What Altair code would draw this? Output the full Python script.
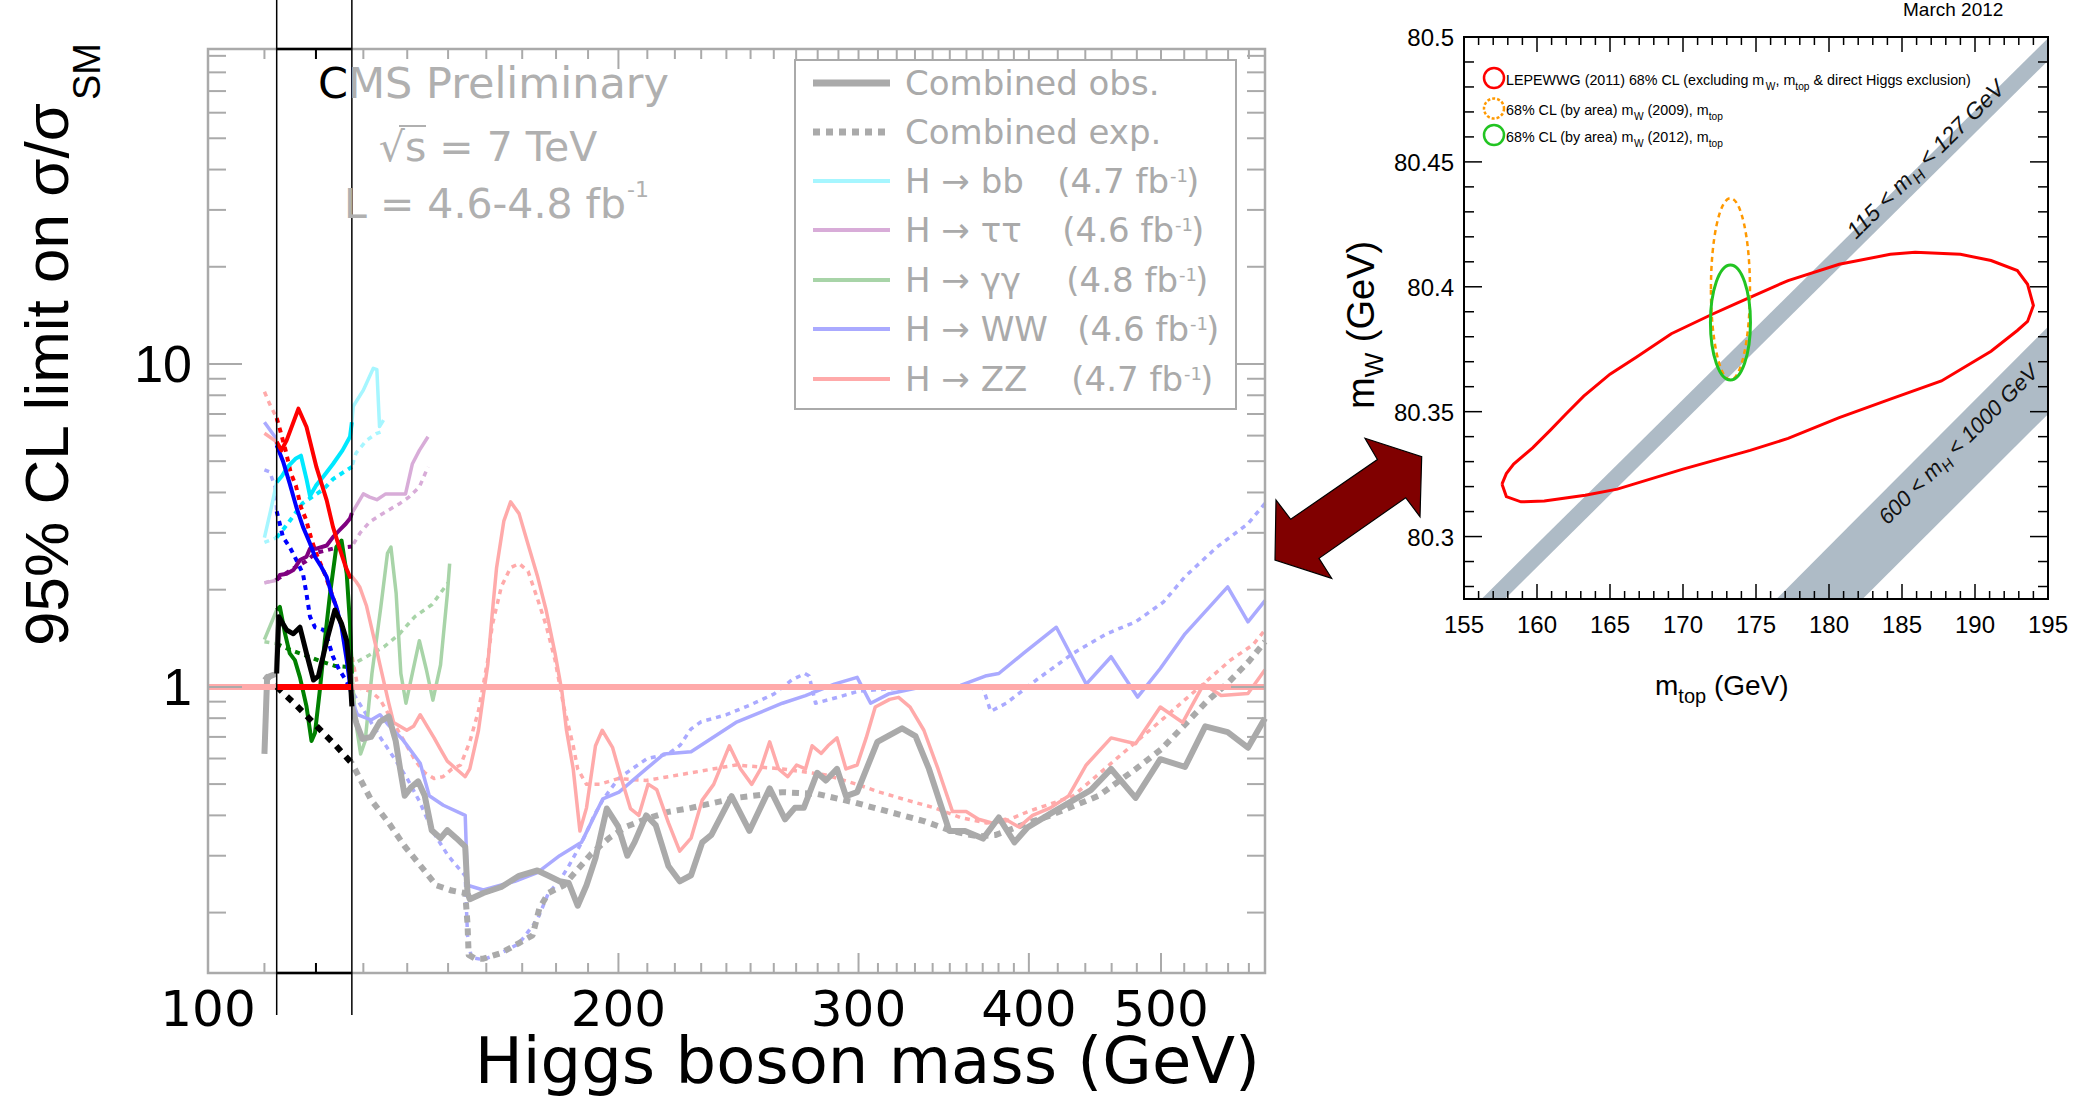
import altair as alt
import pandas as pd

# ================= LEFT PANEL: 95% CL limit on sigma/sigma_SM (CMS, 7 TeV) =================
# (Higgs boson mass [GeV], limit)
OBS = [(110.0,0.62),(110.5,1.07),(112.3,1.10),(112.7,1.65),(114.2,1.50),(115.5,1.46),(116.8,1.53),(118.1,1.27),
       (119.5,1.05),(120.5,1.08),(122.2,1.39),(123.9,1.73),(125.3,1.57),(126.4,1.39),(127.1,1.10),(127.5,0.87),
       (128.5,0.77),(129.8,0.69),(131.7,0.70),(133.7,0.78),(135.7,0.81),(137.3,0.68),(138.3,0.56),(139.4,0.46),
       (141.0,0.49),(142.6,0.51),(144.2,0.46),(145.9,0.36),(148.1,0.34),(149.8,0.36),(152.1,0.34),(154.4,0.32),
       (155.0,0.23),(155.6,0.22),(159.2,0.23),(164.1,0.24),(169.1,0.26),(174.4,0.27),(177.7,0.26),(181.1,0.25),
       (183.9,0.247),(186.7,0.21),(189.5,0.243),(192.4,0.295),(196.1,0.42),(199.9,0.37),(203.0,0.30),(205.5,0.33),
       (209.6,0.40),(213.0,0.373),(217.6,0.279),(221.8,0.25),(226.1,0.261),(230.4,0.33),(234.0,0.348),(242.1,0.459),
       (249.5,0.358),(258.2,0.485),(265.0,0.389),(269.4,0.422),(273.5,0.422),(279.8,0.542),(283.9,0.513),(289.3,0.557),
       (293.7,0.459),(299.3,0.472),(309.7,0.676),(322.9,0.744),(330.3,0.704),(337.9,0.557),(349.7,0.358),(359.1,0.358),
       (370.2,0.339),(380.2,0.394),(390.4,0.330),(399.4,0.368),(414.8,0.405),(434.1,0.453),(444.1,0.479),(459.6,0.557),
       (479.0,0.453),(499.4,0.597),(520.7,0.565),(538.8,0.755),(559.6,0.724),(579.1,0.648),(596.0,0.80)]
EXP = [(110.0,1.08),(112.3,1.00),(116.0,0.88),(120.0,0.76),(124.0,0.66),(127.5,0.58),(131.7,0.447),(135.7,0.379),
       (139.4,0.321),(143.2,0.279),(147.0,0.243),(150.9,0.234),(154.4,0.230),(155.0,0.185),(155.3,0.148),(157.0,0.144),
       (159.2,0.144),(164.1,0.150),(169.1,0.161),(173.0,0.170),(175.0,0.206),(177.7,0.230),(182.4,0.243),(186.7,0.272),
       (191.0,0.304),(196.8,0.340),(203.0,0.370),(209.6,0.390),(217.5,0.410),(226.1,0.422),(243.9,0.453),(263.8,0.472),
       (279.8,0.466),(297.0,0.440),(315.5,0.411),(335.0,0.384),(351.1,0.358),(367.4,0.344),(378.3,0.348),(399.4,0.379),
       (414.8,0.400),(450.0,0.460),(480.0,0.560),(500.0,0.640),(520.0,0.760),(540.0,0.900),(560.0,1.030),(580.0,1.200),
       (596.0,1.38)]
BB_OBS = [(110.0,2.9),(111.3,3.6),(112.3,4.3),(113.3,4.5),(114.4,4.8),(116.0,5.1),(117.0,5.2),(118.1,4.4),(118.8,3.9),
          (120.0,4.2),(121.6,4.5),(123.5,4.9),(125.5,5.4),(127.1,5.95),(127.5,6.6),(127.8,7.4),(130.0,8.3),(132.2,9.7),
          (133.0,9.6),(133.6,6.4),(134.5,6.7)]
BB_EXP = [(110.0,2.8),(112.3,2.9),(114.4,3.2),(117.3,3.7),(119.5,3.9),(121.6,4.1),(123.5,4.4),(125.5,4.6),(127.5,4.8),
          (128.4,5.3),(130.7,5.8),(133.0,6.1),(134.5,6.2)]
TT_OBS = [(110.0,2.1),(112.3,2.14),(112.9,2.22),(114.2,2.24),(115.5,2.30),(116.8,2.47),(118.1,2.53),(118.8,2.68),
          (120.1,2.68),(122.2,2.74),(123.5,2.91),(124.8,3.05),(126.2,3.20),(127.1,3.32),(127.5,3.45),(130.0,3.96),
          (131.4,3.87),(133.0,3.80),(135.0,3.96),(136.6,3.96),(139.6,3.96),(141.2,4.90),(142.9,5.40),(145.0,5.95)]
TT_EXP = [(110.0,2.1),(112.3,2.15),(115.0,2.3),(118.0,2.45),(120.0,2.6),(123.5,2.68),(127.5,2.72),(129.3,3.0),
          (131.4,3.24),(133.7,3.40),(136.0,3.55),(138.3,3.70),(140.4,3.87),(142.9,4.16),(145.0,4.80)]
GG_OBS = [(110.0,1.40),(112.3,1.73),(112.9,1.77),(113.9,1.46),(114.8,1.27),(115.8,1.21),(116.8,1.07),(118.1,0.87),
          (119.1,0.68),(119.8,0.72),(120.8,0.98),(121.8,1.39),(122.9,1.95),(124.2,2.71),(125.3,2.84),(126.4,2.24),
          (127.1,1.57),(127.5,1.10),(128.4,0.77),(129.4,0.62),(130.4,0.68),(131.9,1.10),(133.9,1.77),(135.4,2.59),
          (136.2,2.71),(137.4,1.95),(138.5,1.10),(139.7,0.89),(141.2,1.10),(142.9,1.39),(144.6,1.13),(146.2,0.91),
          (148.1,1.17),(149.8,1.93),(150.4,2.41)]
GG_EXP = [(110.0,1.38),(112.3,1.36),(115.0,1.30),(118.0,1.25),(121.0,1.20),(124.0,1.16),(127.5,1.15),(128.4,1.19),
          (134.6,1.33),(138.2,1.46),(141.8,1.65),(146.0,1.80),(150.0,2.10)]
WW_OBS = [(110.0,6.6),(112.0,5.94),(112.3,5.6),(113.5,5.0),(114.8,4.26),(116.1,3.6),(117.4,3.13),(118.8,2.78),
          (119.8,2.53),(121.1,2.35),(122.2,2.19),(123.2,1.94),(124.2,1.77),(125.3,1.53),(126.4,1.21),(127.1,1.02),
          (127.5,0.91),(128.7,0.82),(131.7,0.79),(133.7,0.82),(135.7,0.76),(138.8,0.69),(139.9,0.66),(143.1,0.58),
          (145.3,0.46),(148.8,0.43),(154.4,0.40),(155.0,0.243),(159.2,0.235),(167.9,0.25),(174.4,0.266),(181.1,0.30),
          (187.9,0.33),(194.8,0.45),(200.2,0.472),(209.6,0.557),(216.0,0.62),(226.1,0.63),(243.9,0.776),(263.8,0.89),
          (274.3,0.94),(288.0,1.02),(299.3,1.07),(306.2,0.89),(315.5,0.95),(330.3,0.99),(356.4,1.01),(371.6,1.08),
          (380.2,1.10),(396.3,1.27),(419.0,1.53),(440.7,1.02),(459.6,1.24),(480.6,0.93),(499.4,1.14),(520.7,1.46),
          (559.6,2.04),(579.1,1.59),(596.0,1.85)]
WW_EXP = [(110.0,4.7),(111.0,4.63),(112.0,4.16),(112.3,3.5),(113.5,2.91),(114.8,2.71),(116.1,2.47),(117.4,2.24),
          (118.1,1.94),(118.8,1.65),(119.8,1.53),(121.6,1.50),(122.5,1.39),(123.5,1.24),(124.8,1.13),(126.2,1.05),
          (127.5,0.97),(130.0,0.85),(133.7,0.70),(137.0,0.60),(140.0,0.52),(143.0,0.44),(146.0,0.36),(150.0,0.30),
          (154.4,0.26),(155.0,0.17),(156.0,0.145),(159.2,0.143),(164.0,0.15),(169.0,0.16),(174.4,0.19),(177.7,0.23),
          (181.0,0.25),(184.0,0.28),(188.0,0.33),(192.0,0.40),(195.0,0.45),(200.0,0.52),(205.0,0.56),(210.0,0.60),
          (217.5,0.62),(222.0,0.66),(226.0,0.74),(230.0,0.78),(240.0,0.82),(250.0,0.88),(260.0,0.95),(268.0,1.05),
          (274.0,1.10),(276.0,1.08),(279.0,0.89),(290.0,0.93),(300.0,0.97),(320.0,0.99),(340.0,1.00),(356.0,0.99),
          (370.0,1.00),(375.0,0.84),(385.0,0.89),(405.0,1.05),(431.0,1.27),(456.0,1.46),(479.0,1.59),(502.0,1.83),
          (521.0,2.20),(549.0,2.70),(579.0,3.20),(596.0,3.70)]
ZZ_OBS = [(110.0,6.1),(112.3,5.74),(113.2,5.4),(114.2,5.8),(116.5,7.27),(118.1,6.38),(120.1,4.79),(122.2,3.78),
          (123.5,3.13),(124.8,2.71),(126.2,2.35),(127.1,2.19),(127.5,2.2),(128.4,2.12),(129.2,2.04),(130.7,1.78),
          (132.7,1.35),(133.7,1.17),(134.7,1.02),(135.7,0.89),(136.8,0.776),(138.3,0.755),(139.9,0.734),(141.5,0.755),
          (143.1,0.82),(144.8,0.755),(146.5,0.695),(148.1,0.64),(149.8,0.589),(152.1,0.557),(154.4,0.527),(155.6,0.557),
          (157.9,0.734),(159.2,0.94),(160.4,1.17),(161.6,1.68),(162.8,2.34),(164.8,3.26),(166.7,3.74),(169.1,3.44),
          (171.7,2.76),(174.4,2.21),(177.0,1.73),(179.7,1.27),(181.8,0.967),(183.2,0.734),(185.3,0.557),(187.4,0.358),
          (189.5,0.422),(192.4,0.657),(194.6,0.734),(198.0,0.65),(201.0,0.52),(204.1,0.42),(207.0,0.40),(210.3,0.50),
          (213.4,0.48),(217.6,0.38),(221.8,0.31),(226.1,0.34),(230.4,0.446),(234.9,0.499),(241.2,0.657),(245.8,0.557),
          (250.5,0.499),(254.3,0.557),(258.2,0.676),(262.1,0.557),(266.2,0.527),(270.2,0.573),(274.3,0.557),(277.4,0.657),
          (281.7,0.622),(284.9,0.657),(289.3,0.695),(293.7,0.557),(299.3,0.573),(303.9,0.695),(308.6,0.866),(316.2,0.915),
          (321.0,0.928),(327.3,0.866),(335.0,0.734),(343.1,0.557),(351.6,0.411),(359.8,0.411),(367.4,0.389),(375.8,0.379),
          (384.5,0.389),(393.4,0.368),(402.5,0.400),(414.8,0.422),(427.7,0.459),(440.7,0.573),(459.6,0.695),(479.0,0.667),
          (499.4,0.866),(518.7,0.776),(537.4,1.02),(553.4,0.941),(579.1,0.954),(596.0,1.13)]
ZZ_EXP = [(110.0,8.2),(111.0,7.5),(112.3,6.8),(113.0,6.2),(114.0,5.4),(115.0,4.6),(116.0,4.2),(117.0,3.6),(118.0,3.3),
          (119.0,2.9),(120.0,2.6),(122.0,2.2),(124.0,1.8),(126.0,1.45),(127.5,1.25),(128.8,0.995),(131.7,0.967),
          (133.7,0.915),(135.7,0.82),(137.8,0.734),(139.9,0.657),(142.0,0.589),(144.2,0.542),(146.5,0.52),(148.7,0.527),
          (151.0,0.557),(153.2,0.573),(155.6,0.676),(157.9,0.843),(160.4,1.21),(161.6,1.55),(164.1,2.04),(166.7,2.34),
          (169.1,2.41),(171.7,2.28),(174.4,1.88),(177.0,1.55),(179.7,1.21),(182.4,0.866),(185.3,0.657),(186.7,0.557),
          (189.5,0.499),(193.8,0.499),(199.9,0.52),(209.6,0.513),(226.1,0.542),(243.9,0.573),(263.8,0.557),(283.9,0.534),
          (299.3,0.499),(310.9,0.472),(325.5,0.446),(341.1,0.422),(356.4,0.394),(372.4,0.379),(384.5,0.384),(399.4,0.411),
          (414.8,0.434),(430.9,0.459),(447.7,0.527),(465.0,0.605),(483.1,0.695),(501.9,0.797),(521.0,0.915),(541.1,1.05),
          (562.2,1.21),(584.0,1.35),(596.0,1.50)]

HIGHLIGHT = (112.3, 127.5)          # mass window shown in full colour
X_LABELS_L = [100, 200, 300, 400, 500]
Y_LABELS_L = [1, 10]
LEGEND_LABELS = ["Combined obs.", "Combined exp.", "H → bb", "H → ττ", "H → γγ", "H → WW", "H → ZZ"]
LEGEND_LUMI = ["", "", "(4.7 fb", "(4.6 fb", "(4.8 fb", "(4.6 fb", "(4.7 fb"]

# ================= RIGHT PANEL: m_W vs m_top =================
LEP_CONTOUR = [(157.6,80.3210),(157.9,80.3252),(158.4,80.3290),(159.7,80.3355),(160.9,80.3425),(162.0,80.3492),
               (163.2,80.3562),(165.0,80.3650),(166.8,80.3718),(169.2,80.3812),(172.0,80.3890),(173.7,80.3935),
               (177.2,80.4025),(180.7,80.4090),(184.2,80.4130),(185.9,80.4138),(189.0,80.4130),(191.1,80.4105),
               (192.9,80.4065),(193.6,80.4010),(194.0,80.3925),(193.6,80.3861),(192.9,80.3825),(191.1,80.3742),
               (187.7,80.3623),(184.2,80.3550),(180.7,80.3476),(177.2,80.3393),(174.6,80.3345),(170.0,80.3270),
               (165.5,80.3190),(163.3,80.3165),(160.5,80.3142),(158.9,80.3139),(157.9,80.3160),(157.6,80.3210)]
MW2009_CENTER = [(173.25, 80.3991)]
MW2012_CENTER = [(173.25, 80.3857)]
BAND_115_127 = [(156.2, 80.2750, 80.275), (157.8, 80.2843, 80.275), (195.0, 80.4995, 80.4905)]
BAND_600_1000 = [(176.4, 80.2750, 80.275), (182.3, 80.3096, 80.275), (195.0, 80.3840, 80.3490)]
X_LABELS_R = [155, 160, 165, 170, 175, 180, 185, 190, 195]
Y_LABELS_R = [(80.3, "80.3"), (80.35, "80.35"), (80.4, "80.4"), (80.45, "80.45"), (80.5, "80.5")]
LEP_LEGEND = [
    [("LEPEWWG (2011) 68% CL (excluding m", 0), ("W", 1), (", m", 0), ("top", 1), (" & direct Higgs exclusion)", 0)],
    [("68% CL (by area) m", 0), ("W", 1), (" (2009), m", 0), ("top", 1)],
    [("68% CL (by area) m", 0), ("W", 1), (" (2012), m", 0), ("top", 1)],
]

# ================= helpers =================
DV = "DejaVu Sans"
LS = "Liberation Sans"
ARIAL = {' ': .278, '(': .333, ')': .333, ',': .278, '-': .333, '.': .278, '%': .889, '&': .667, '<': .584,
         'A': .667, 'C': .722, 'E': .667, 'G': .778, 'H': .722, 'L': .556, 'M': .833, 'P': .667, 'S': .667,
         'T': .611, 'V': .667, 'W': .944, 'a': .556, 'b': .556, 'c': .5, 'd': .556, 'e': .556, 'g': .556,
         'h': .556, 'i': .222, 'l': .222, 'm': .833, 'n': .556, 'o': .556, 'p': .556, 'r': .333, 's': .5,
         't': .278, 'u': .556, 'x': .5, 'y': .5}


def tw(s, size):
    return sum(ARIAL.get(c, 0.556) for c in s) * size


XL = alt.Scale(type="log", domain=[100, 596], range=[208, 1265], nice=False)
YL = alt.Scale(type="log", domain=[0.13, 94.5], range=[973, 49], nice=False)
XR = alt.Scale(type="linear", domain=[155, 195], range=[1464, 2048], nice=False, zero=False)
YR = alt.Scale(type="linear", domain=[80.275, 80.5], range=[599, 37], nice=False, zero=False)
ONE = pd.DataFrame({"k": [0]})


def xl(f="m"):
    return alt.X(f"{f}:Q", scale=XL, axis=None)


def yl(f="v"):
    return alt.Y(f"{f}:Q", scale=YL, axis=None)


def xr(f="mt"):
    return alt.X(f"{f}:Q", scale=XR, axis=None)


def yr(f="mw"):
    return alt.Y(f"{f}:Q", scale=YR, axis=None)


def curve(pairs, color, width, dash=None, bright=False):
    kw = dict(color=color, strokeWidth=width, strokeJoin="round", strokeCap="butt")
    if dash:
        kw["strokeDash"] = dash
    ch = alt.Chart(pd.DataFrame(pairs, columns=["m", "v"])).mark_line(**kw).encode(x=xl(), y=yl())
    if bright:
        ch = ch.transform_filter(alt.FieldRangePredicate(field="m", range=list(HIGHLIGHT)))
    return ch


def texts(items, size, font, color="#000000", align="left", angle=None, style=None):
    df = pd.DataFrame(items, columns=["px", "py", "txt"])
    kw = dict(fontSize=size, font=font, color=color, align=align, baseline="alphabetic")
    if angle is not None:
        kw["angle"] = angle
    if style:
        kw["fontStyle"] = style
    return alt.Chart(df).mark_text(**kw).encode(
        x=alt.X("px:Q", scale=None, axis=None), y=alt.Y("py:Q", scale=None, axis=None), text="txt:N")


def hrule(x0, x1, y, color, w, dash=None):
    kw = dict(color=color, strokeWidth=w)
    if dash:
        kw["strokeDash"] = dash
    return alt.Chart(ONE).mark_rule(**kw).encode(x=alt.value(x0), x2=alt.value(x1), y=alt.value(y))


def frame(x0, y0, x1, y1, color, w, fill=None):
    kw = dict(stroke=color, strokeWidth=w)
    if fill:
        kw["fill"] = fill
    else:
        kw["fillOpacity"] = 0
    return alt.Chart(ONE).mark_rect(**kw).encode(
        x=alt.value(x0), x2=alt.value(x1), y=alt.value(y0), y2=alt.value(y1))


# ================= left panel layers =================
SERIES = [
    (BB_OBS, BB_EXP, "#a6f6ff", "#00e8ff"),
    (TT_OBS, TT_EXP, "#d8acd8", "#800080"),
    (GG_OBS, GG_EXP, "#a8d4a8", "#008000"),
    (WW_OBS, WW_EXP, "#aaaaff", "#0000ff"),
    (ZZ_OBS, ZZ_EXP, "#ffaaaa", "#ff0000"),
]
GRAY = "#aaaaaa"
L = []
for obs, exp, light, bright in SERIES:
    L.append(curve(exp, light, 3.5, dash=[5, 5]))
L.append(curve(EXP, GRAY, 6, dash=[7, 6]))
for obs, exp, light, bright in SERIES:
    L.append(curve(obs, light, 3.5))
L.append(curve(OBS, GRAY, 6))
ONE_LINE = pd.DataFrame({"a": [100.0], "b": [596.0], "v": [1.0], "lo": [HIGHLIGHT[0]], "hi": [HIGHLIGHT[1]]})
L.append(alt.Chart(ONE_LINE).mark_rule(color="#ffaaaa", strokeWidth=6).encode(x=xl("a"), x2=alt.X2("b:Q"), y=yl("v")))
# white window over the highlighted mass range
L.append(alt.Chart(ONE_LINE).mark_rect(color="white").encode(
    x=xl("lo"), x2=alt.X2("hi:Q"), y=alt.value(51), y2=alt.value(971)))
for obs, exp, light, bright in SERIES:
    L.append(curve(exp, bright, 4, dash=[5, 5], bright=True))
for obs, exp, light, bright in SERIES:
    L.append(curve(obs, bright, 4, bright=True))
L.append(curve(EXP, "#000000", 6, dash=[7, 7], bright=True))
L.append(curve(OBS, "#000000", 5, bright=True))
L.append(alt.Chart(ONE_LINE).mark_rule(color="#ff0000", strokeWidth=6).encode(x=xl("lo"), x2=alt.X2("hi:Q"), y=yl("v")))

# axes (ROOT style, inward ticks on all four sides)
XMIN_L = [110, 120, 130, 140, 150, 160, 170, 180, 190, 210, 220, 230, 240, 250, 260, 270, 280, 290,
          310, 320, 330, 340, 350, 360, 370, 380, 390, 420, 440, 460, 480, 520, 540, 560, 580]
XMAJ_L = [200, 300, 400, 500]
YMIN_L = [0.2, 0.3, 0.4, 0.5, 0.6, 0.7, 0.8, 0.9, 2, 3, 4, 5, 6, 7, 8, 9, 20, 30, 40, 50, 60, 70, 80, 90]
YMAJ_L = [1, 10]


def vt(vals, y0, y1, color=GRAY, w=2):
    return alt.Chart(pd.DataFrame({"t": vals})).mark_rule(color=color, strokeWidth=w).encode(
        x=xl("t"), y=alt.value(y0), y2=alt.value(y1))


def ht(vals, x0, x1, color=GRAY, w=2):
    return alt.Chart(pd.DataFrame({"t": vals})).mark_rule(color=color, strokeWidth=w).encode(
        y=yl("t"), x=alt.value(x0), x2=alt.value(x1))


L += [vt(XMIN_L, 973, 963), vt(XMAJ_L, 973, 953), vt(XMIN_L, 49, 59), vt(XMAJ_L, 49, 69),
      ht(YMIN_L, 208, 226), ht(YMAJ_L, 208, 242), ht(YMIN_L, 1265, 1247), ht(YMAJ_L, 1265, 1231)]
L.append(frame(208, 49, 1265, 973, GRAY, 2.5))
# window frame pieces in black
L.append(alt.Chart(ONE_LINE).mark_rule(color="#000000", strokeWidth=2.5).encode(x=xl("lo"), x2=alt.X2("hi:Q"), y=alt.value(49)))
L.append(alt.Chart(ONE_LINE).mark_rule(color="#000000", strokeWidth=2.5).encode(x=xl("lo"), x2=alt.X2("hi:Q"), y=alt.value(973)))
L += [vt([120], 973, 963, "#000000"), vt([120], 49, 59, "#000000")]
L.append(alt.Chart(pd.DataFrame({"t": list(HIGHLIGHT)})).mark_rule(color="#000000", strokeWidth=1.5).encode(
    x=xl("t"), y=alt.value(0), y2=alt.value(1015)))
# tick labels
L.append(alt.Chart(pd.DataFrame({"t": X_LABELS_L, "s": [str(v) for v in X_LABELS_L]})).mark_text(
    font=DV, fontSize=50, color="#000000", align="center", baseline="alphabetic").encode(
    x=xl("t"), y=alt.value(1026), text="s:N"))
L.append(alt.Chart(pd.DataFrame({"t": Y_LABELS_L, "s": [str(v) for v in Y_LABELS_L]})).mark_text(
    font=LS, fontSize=52, color="#000000", align="right", baseline="alphabetic", dy=18).encode(
    y=yl("t"), x=alt.value(192), text="s:N"))
left = alt.layer(*L)

# ================= right panel layers =================
R = []
for band in (BAND_115_127, BAND_600_1000):
    R.append(alt.Chart(pd.DataFrame(band, columns=["mt", "top", "bot"])).mark_area(color="#aebbc6", opacity=1).encode(
        x=xr(), y=yr("top"), y2=alt.Y2("bot:Q")))
lep = pd.DataFrame(LEP_CONTOUR, columns=["mt", "mw"])
lep["i"] = range(len(lep))
R.append(alt.Chart(lep).mark_line(color="#ff0000", strokeWidth=3).encode(x=xr(), y=yr(), order="i:Q"))
ELL09 = "M -0.215 0 A 0.215 1 0 1 1 0.215 0 A 0.215 1 0 1 1 -0.215 0 Z"
ELL12 = "M -0.348 0 A 0.348 1 0 1 1 0.348 0 A 0.348 1 0 1 1 -0.348 0 Z"
R.append(alt.Chart(pd.DataFrame(MW2009_CENTER, columns=["mt", "mw"])).mark_point(
    shape=ELL09, size=32979, filled=False, color="#ff9900", stroke="#ff9900", strokeWidth=2.5,
    strokeDash=[5, 4], opacity=1).encode(x=xr(), y=yr()))
R.append(alt.Chart(pd.DataFrame(MW2012_CENTER, columns=["mt", "mw"])).mark_point(
    shape=ELL12, size=13225, filled=False, color="#22c422", stroke="#22c422", strokeWidth=3,
    opacity=1).encode(x=xr(), y=yr()))
XMAJ_R = [160, 165, 170, 175, 180, 185, 190]
XMIN_R = [v for v in range(156, 195) if v % 5 != 0]
YMAJ_R = [80.3, 80.35, 80.4, 80.45]
YMIN_R = [80.28, 80.29, 80.31, 80.32, 80.33, 80.34, 80.36, 80.37, 80.38, 80.39,
          80.41, 80.42, 80.43, 80.44, 80.46, 80.47, 80.48, 80.49]


def vtr(vals, y0, y1):
    return alt.Chart(pd.DataFrame({"t": vals})).mark_rule(color="#000000", strokeWidth=1.5).encode(
        x=xr("t"), y=alt.value(y0), y2=alt.value(y1))


def htr(vals, x0, x1):
    return alt.Chart(pd.DataFrame({"t": vals})).mark_rule(color="#000000", strokeWidth=1.5).encode(
        y=yr("t"), x=alt.value(x0), x2=alt.value(x1))


R += [vtr(XMAJ_R, 599, 584), vtr(XMIN_R, 599, 591), vtr(XMAJ_R, 37, 52), vtr(XMIN_R, 37, 45),
      htr(YMAJ_R, 1464, 1482), htr(YMIN_R, 1464, 1474), htr(YMAJ_R, 2048, 2030), htr(YMIN_R, 2048, 2038)]
R.append(frame(1464, 37, 2048, 599, "#000000", 2))
R.append(alt.Chart(pd.DataFrame({"t": X_LABELS_R, "s": [str(v) for v in X_LABELS_R]})).mark_text(
    font=LS, fontSize=24, color="#000000", align="center", baseline="alphabetic").encode(
    x=xr("t"), y=alt.value(633), text="s:N"))
R.append(alt.Chart(pd.DataFrame(Y_LABELS_R, columns=["t", "s"])).mark_text(
    font=LS, fontSize=24, color="#000000", align="right", baseline="alphabetic", dy=9).encode(
    y=yr("t"), x=alt.value(1454), text="s:N"))
# band labels written along the bands
for (mt0, mw0), lo, hi in [((181.85, 80.4187), "115", "127"), ((184.0, 80.3043), "600", "1000")]:
    fs = 23 if lo == "115" else 22
    a = f"{lo} < m"
    pos = pd.DataFrame({"mt": [mt0], "mw": [mw0]})
    R.append(alt.Chart(pos).mark_text(text=a, font=LS, fontSize=fs, fontStyle="italic", color="#111111",
                                      angle=315, align="left", baseline="alphabetic").encode(x=xr(), y=yr()))
    R.append(alt.Chart(pos).mark_text(text="H", font=LS, fontSize=fs * 0.7, fontStyle="italic", color="#111111",
                                      angle=315, align="left", baseline="alphabetic", dx=tw(a, fs),
                                      dy=5).encode(x=xr(), y=yr()))
    R.append(alt.Chart(pos).mark_text(text=f"< {hi} GeV", font=LS, fontSize=fs, fontStyle="italic",
                                      color="#111111", angle=315, align="left", baseline="alphabetic",
                                      dx=tw(a, fs) + tw("H", fs * 0.7) + tw(" ", fs)).encode(x=xr(), y=yr()))
right = alt.layer(*R)

# ================= free-standing annotations (pixel positioned) =================
O = []
# left axis titles
O.append(texts([(68, 103, "95% CL limit on σ/σ")], 62, LS, align="right", angle=270))
O.append(texts([(100, 100, "SM")], 38, LS, align="left", angle=270))
O.append(texts([(1260, 1083, "Higgs boson mass (GeV)")], 64, DV, align="right"))
# CMS labels
O.append(texts([(318, 98, "C")], 43, DV, color="#000000"))
O.append(texts([(348, 98, "MS Preliminary")], 43, DV, color="#b0b0b0"))
O.append(texts([(488, 161, "√s = 7 TeV")], 41, DV, color="#b0b0b0", align="center"))
O.append(hrule(399, 426, 126, "#b0b0b0", 2))
O.append(texts([(626, 217.5, "L = 4.6-4.8 fb")], 41, DV, color="#b0b0b0", align="right"))
O.append(texts([(627, 197, "-1")], 22, DV, color="#b0b0b0"))
# left legend
O.append(frame(795, 60, 1236, 409, GRAY, 2, fill="white"))
BASE = [95, 144, 193, 242, 292, 341, 391]
LEG_STYLE = [(GRAY, 7, None), (GRAY, 7, [7, 6])] + [(s[2], 4, None) for s in SERIES]
for b, (c, w, d) in zip(BASE, LEG_STYLE):
    O.append(hrule(813, 890, b - 12, c, w, d))
O.append(texts([(905, b, t) for b, t in zip(BASE, LEGEND_LABELS)], 34, DV, color=GRAY))
ANCH = [0, 0, 1169, 1174, 1178, 1189, 1183]
lum = [(a, b, t) for a, b, t in zip(ANCH, BASE, LEGEND_LUMI) if t]
O.append(texts(lum, 34, DV, color=GRAY, align="right"))
O.append(texts([(a + 1, b - 11, "-1") for a, b, t in lum], 18, DV, color=GRAY))
O.append(texts([(a + 17, b, ")") for a, b, t in lum], 34, DV, color=GRAY))
# right panel titles
O.append(texts([(1903, 16, "March 2012")], 19, LS))
mw_m = tw("m", 38)
O.append(texts([(1374, 409, "m")], 38, LS, angle=270))
O.append(texts([(1383, 409 - mw_m, "W")], 26, LS, angle=270))
O.append(texts([(1374, 409 - mw_m - tw("W", 26) - tw(" ", 38), "(GeV)")], 38, LS, angle=270))
xm = 1655 + tw("m", 28)
O.append(texts([(1655, 695, "m")], 28, LS))
O.append(texts([(xm, 703, "top")], 20, LS))
O.append(texts([(xm + tw("top", 20) + tw(" ", 28), 695, "(GeV)")], 28, LS))
# right legend
MAIN_FS, SUB_FS = 14.3, 10.2
main_items, sub_items = [], []
for row, base in zip(LEP_LEGEND, [85, 115, 142]):
    x = 1506.0
    for txt, sub in row:
        fs = SUB_FS if sub else MAIN_FS
        lead = len(txt) - len(txt.lstrip(" "))
        x += tw(" " * lead, fs)
        (sub_items if sub else main_items).append((x, base + (5 if sub else 0), txt.lstrip(" ")))
        x += tw(txt.lstrip(" "), fs)
O.append(texts(main_items, MAIN_FS, LS))
O.append(texts(sub_items, SUB_FS, LS))
for cy, col, dash in [(78, "#ff0000", None), (108.5, "#ff9900", [3, 2]), (135, "#22c422", None)]:
    kw = dict(shape="circle", size=400, filled=False, color=col, stroke=col, strokeWidth=2.5, opacity=1)
    if dash:
        kw["strokeDash"] = dash
    O.append(alt.Chart(ONE).mark_point(**kw).encode(x=alt.value(1494), y=alt.value(cy)))
# double arrow between the panels
ARROW = ("M -0.734 0.517 L -0.724 -0.083 L -0.577 0.110 L 0.290 -0.488 L 0.166 -0.700 L 0.733 -0.516 "
         "L 0.716 0.084 L 0.573 -0.106 L -0.294 0.500 L -0.167 0.700 Z")
O.append(alt.Chart(ONE).mark_point(shape=ARROW, size=40000, filled=True, color="#800000", fill="#800000",
                                   stroke="#000000", strokeWidth=1.2, opacity=1, fillOpacity=1).encode(
    x=alt.value(1348.4), y=alt.value(508.3)))
overlay = alt.layer(*O)

chart = alt.layer(left, right, overlay).resolve_scale(x="independent", y="independent").properties(
    width=2077, height=1100, padding=0, autosize=alt.AutoSizeParams(type="none"), background="white"
).configure_view(stroke=None)

chart.save("out.html", embed_options={"renderer": "svg", "actions": False})
